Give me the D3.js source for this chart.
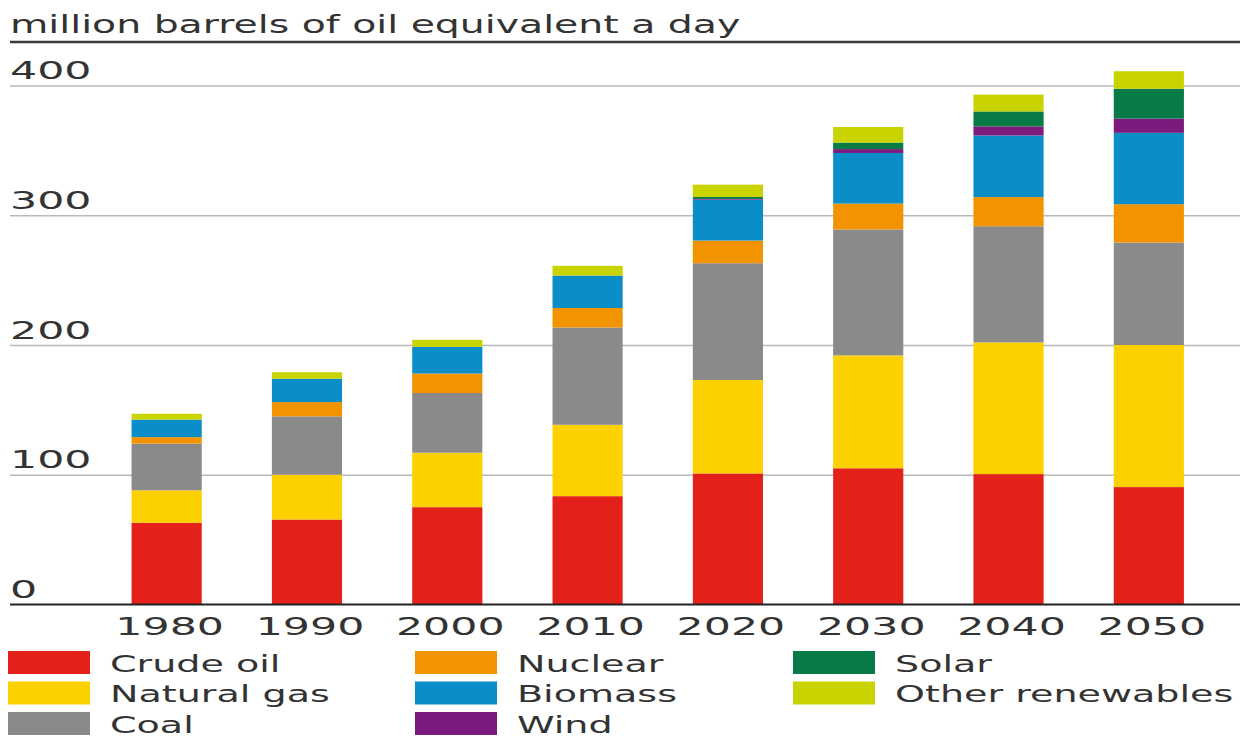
<!DOCTYPE html>
<html>
<head>
<meta charset="utf-8">
<script src="https://cdn.jsdelivr.net/npm/d3@7"></script>
<style>
  html, body { margin: 0; padding: 0; background: #fff; }
  svg { display: block; }
  text { font-family: "DejaVu Sans", sans-serif; fill: #333; }
</style>
</head>
<body>
<svg id="chart" width="1248" height="737"></svg>
<script>
// Primary energy demand by source, million barrels of oil equivalent a day
const years = ["1980", "1990", "2000", "2010", "2020", "2030", "2040", "2050"];
const crudeOil   = [63, 65.5, 75, 83.5, 101, 105, 100.5, 90.5];
const naturalGas = [25, 34.5, 42, 55, 72, 87, 101.5, 109.5];
const coal       = [36, 45, 46, 75, 90, 97, 89.5, 79];
const nuclear    = [5, 11, 15, 15, 17.5, 20, 22.5, 29.5];
const biomass    = [13.5, 18, 20.5, 25, 31.5, 39, 47.5, 55];
const wind       = [0, 0, 0, 0, 0.6, 3, 7, 11];
const solar      = [0, 0, 0, 0, 1.5, 5, 11.5, 23];
const otherRenew = [4.5, 5, 5.5, 7.5, 9.5, 12, 13, 13.5];
const seriesNames = ["Crude oil", "Natural gas", "Coal", "Nuclear", "Biomass", "Wind", "Solar", "Other renewables"];
const yTicks = [0, 100, 200, 300, 400];
const unitLabel = "million barrels of oil equivalent a day";

const seriesValues = [crudeOil, naturalGas, coal, nuclear, biomass, wind, solar, otherRenew];
const colors = ["#e3211a", "#fdd000", "#8a8a8a", "#f29300", "#0b8dc8", "#7c1a7d", "#067b45", "#c8d300"];

const rows = years.map((yr, i) => {
  const r = { year: yr };
  seriesNames.forEach((s, k) => { r[s] = seriesValues[k][i]; });
  return r;
});

const svg = d3.select("#chart");
const FS = 24;          // base font size
const SX_WORD = 1.62;   // horizontal stretch of the wide face for words
const SX_NUM = 1.78;    // and for numerals

const left = 10, right = 1240;
const x = d3.scaleBand().domain(years).range([96.5, 1219]).paddingInner(0.5).paddingOuter(0.25);
const y = d3.scaleLinear().domain([0, 400]).range([604.5, 85.5]);

// unit label and rule beneath it
svg.append("text")
  .attr("transform", `translate(${left},33) scale(1.575,1)`)
  .style("font-size", (FS + 1) + "px")
  .text(unitLabel);
svg.append("line")
  .attr("x1", left).attr("x2", right).attr("y1", 42).attr("y2", 42)
  .attr("stroke", "#3a3a3a").attr("stroke-width", 2.5);

// gridlines with labels sitting above them
const yAxis = svg.append("g")
  .attr("transform", `translate(${left},0)`)
  .call(d3.axisRight(y).tickValues(yTicks).tickSize(right - left).tickFormat(d3.format("d")));
yAxis.select(".domain").remove();
yAxis.selectAll(".tick line").attr("stroke", "#b9b9b9").attr("stroke-width", 1.6);
yAxis.selectAll(".tick text")
  .attr("x", 0).attr("dy", 0).attr("y", -7)
  .attr("text-anchor", "start")
  .attr("transform", `scale(${SX_NUM},1)`)
  .attr("fill", "#333")
  .style("font-size", FS + "px")
  .style("font-family", "DejaVu Sans, sans-serif");
yAxis.selectAll(".tick").filter(d => d === 0).select("line").remove();

// stacked bars
const stacked = d3.stack().keys(seriesNames)(rows);
svg.append("g").selectAll("g")
  .data(stacked)
  .join("g")
  .attr("fill", (d, i) => colors[i])
  .selectAll("rect")
  .data(d => d)
  .join("rect")
  .attr("x", d => x(d.data.year))
  .attr("width", x.bandwidth())
  .attr("y", d => y(d[1]))
  .attr("height", d => Math.max(0, y(d[0]) - y(d[1])));

// baseline
svg.append("line")
  .attr("x1", left).attr("x2", right).attr("y1", y(0)).attr("y2", y(0))
  .attr("stroke", "#222").attr("stroke-width", 2.2);

// year labels
const xAxis = svg.append("g")
  .attr("transform", `translate(0,${y(0)})`)
  .call(d3.axisBottom(x).tickSize(0));
xAxis.select(".domain").remove();
xAxis.selectAll(".tick text")
  .attr("y", 30.5).attr("dy", 0)
  .attr("transform", `translate(3,0) scale(${SX_NUM},1)`)
  .attr("fill", "#333")
  .style("font-size", FS + "px")
  .style("font-family", "DejaVu Sans, sans-serif");

// legend, three columns filled top to bottom
const colX = [8, 415, 793];
const rowY = [651, 681.5, 712];
const legend = svg.append("g").selectAll("g")
  .data(seriesNames)
  .join("g")
  .attr("transform", (d, i) => `translate(${colX[Math.floor(i / 3)]},${rowY[i % 3]})`);
legend.append("rect")
  .attr("width", 82).attr("height", 23)
  .attr("fill", (d, i) => colors[i]);
legend.append("text")
  .attr("transform", `translate(102,20.5) scale(${SX_WORD},1)`)
  .style("font-size", (FS - 0.5) + "px")
  .text(d => d);
</script>
</body>
</html>
